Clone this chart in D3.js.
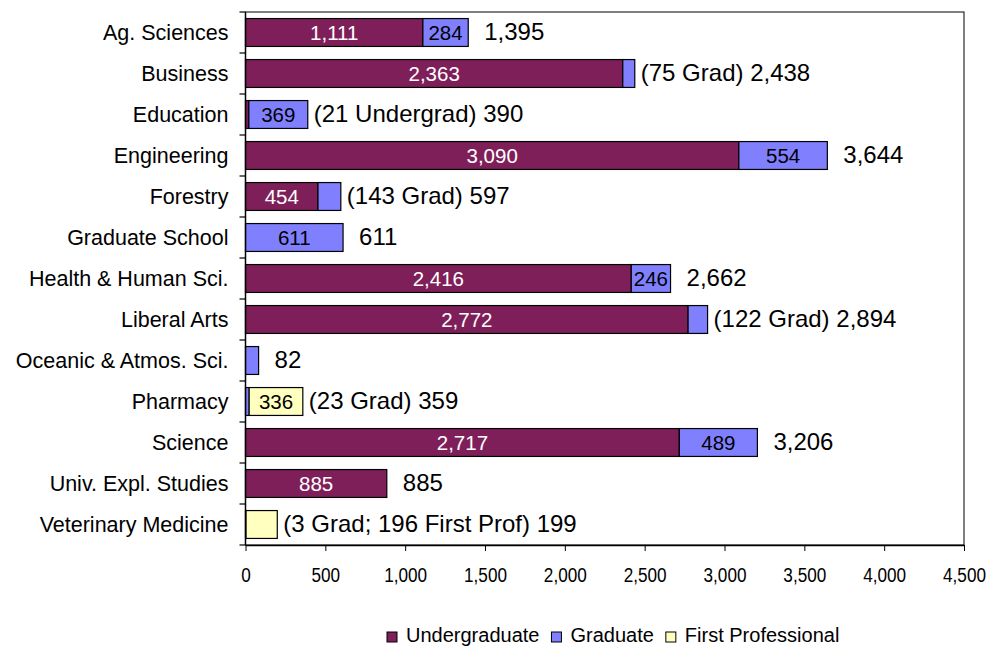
<!DOCTYPE html>
<html>
<head>
<meta charset="utf-8">
<script src="https://cdn.jsdelivr.net/npm/d3@7/dist/d3.min.js"></script>
<style>
  html, body { margin: 0; padding: 0; background: #fff; }
  svg { display: block; font-family: Arial, "Liberation Sans", sans-serif; }
</style>
</head>
<body>
<div id="chart"></div>
<script>
// enrollment by college, stacked by student level

const colleges = [
  "Ag. Sciences", "Business", "Education", "Engineering", "Forestry",
  "Graduate School", "Health & Human Sci.", "Liberal Arts",
  "Oceanic & Atmos. Sci.", "Pharmacy", "Science", "Univ. Expl. Studies",
  "Veterinary Medicine"
];
const undergrad = [1111, 2363, 21, 3090, 454, 0, 2416, 2772, 0, 0, 2717, 885, 0];
const grad      = [284, 75, 369, 554, 143, 611, 246, 122, 82, 23, 489, 0, 3];
const firstProf = [0, 0, 0, 0, 0, 0, 0, 0, 0, 336, 0, 0, 196];
const totalLabels = [
  "1,395", "(75 Grad) 2,438", "(21 Undergrad) 390", "3,644", "(143 Grad) 597",
  "611", "2,662", "(122 Grad) 2,894", "82", "(23 Grad) 359", "3,206", "885",
  "(3 Grad; 196 First Prof) 199"
];
const xTicks = [0, 500, 1000, 1500, 2000, 2500, 3000, 3500, 4000, 4500];

const seriesKeys = ["Undergraduate", "Graduate", "First Professional"];
const colors = { "Undergraduate": "#7f1f5a", "Graduate": "#8080ff", "First Professional": "#ffffc0" };
const labelColors = { "Undergraduate": "#fff", "Graduate": "#000", "First Professional": "#000" };

const rows = colleges.map((c, i) => ({
  college: c,
  "Undergraduate": undergrad[i],
  "Graduate": grad[i],
  "First Professional": firstProf[i],
  label: totalLabels[i]
}));

const W = 992, H = 646;
const margin = { top: 12, right: 28, bottom: 101, left: 245.5 };
const width = W - margin.left - margin.right;
const height = H - margin.top - margin.bottom;

const svg = d3.select("#chart").append("svg")
  .attr("width", W).attr("height", H);

const g = svg.append("g").attr("transform", `translate(${margin.left},${margin.top})`);

const x = d3.scaleLinear().domain([0, 4500]).range([0, width]);
const y = d3.scaleBand().domain(colleges).range([0, height]).paddingInner(0.32).paddingOuter(0.16);

const stack = d3.stack().keys(seriesKeys)(rows);

// plot frame
g.append("rect")
  .attr("width", width).attr("height", height)
  .attr("fill", "none").attr("stroke", "#000").attr("stroke-width", 1);

// bars
const layers = g.append("g").selectAll("g")
  .data(stack)
  .join("g")
    .attr("fill", d => colors[d.key]);

layers.selectAll("rect")
  .data(d => d.filter(s => s[1] - s[0] > 0))
  .join("rect")
    .attr("x", s => x(s[0]))
    .attr("y", s => y(s.data.college))
    .attr("width", s => x(s[1]) - x(s[0]))
    .attr("height", y.bandwidth())
    .attr("stroke", "#000")
    .attr("stroke-width", 1.2);

// in-bar value labels (only segments wide enough)
stack.forEach(layer => {
  g.append("g").selectAll("text")
    .data(layer.filter(s => s[1] - s[0] > 220))
    .join("text")
      .attr("x", s => x((s[0] + s[1]) / 2))
      .attr("y", s => y(s.data.college) + y.bandwidth() / 2)
      .attr("dy", "0.36em")
      .attr("text-anchor", "middle")
      .attr("font-size", 20.5)
      .attr("fill", labelColors[layer.key])
      .text(s => d3.format(",")(s[1] - s[0]));
});

// total labels beside bars
g.append("g").selectAll("text")
  .data(rows)
  .join("text")
    .attr("x", d => x(d["Undergraduate"] + d["Graduate"] + d["First Professional"]) + (d.label.startsWith("(") ? 6 : 16))
    .attr("y", d => y(d.college) + y.bandwidth() / 2)
    .attr("dy", "0.33em")
    .attr("font-size", 24)
    .attr("fill", "#000")
    .text(d => d.label);

// x axis
const xAxis = g.append("g")
  .attr("transform", `translate(0,${height})`)
  .call(d3.axisBottom(x).tickValues(xTicks).tickSize(6).tickSizeOuter(0).tickPadding(17).tickFormat(d3.format(",")));
xAxis.select(".domain").attr("stroke-width", 1.5);
xAxis.selectAll("text").attr("font-size", 19.5).attr("fill", "#000")
  .attr("transform", "scale(0.88,1)");

// y axis: labels centred on bands, ticks on band boundaries
const yAxis = g.append("g");
yAxis.append("line")
  .attr("y1", 0).attr("y2", height).attr("stroke", "#000").attr("stroke-width", 1.5);
yAxis.selectAll("line.tick")
  .data(d3.range(colleges.length + 1))
  .join("line")
    .attr("class", "tick")
    .attr("x1", -6).attr("x2", 0)
    .attr("y1", i => i * y.step())
    .attr("y2", i => i * y.step())
    .attr("stroke", "#000").attr("stroke-width", 1.2);
yAxis.selectAll("text")
  .data(colleges)
  .join("text")
    .attr("x", -17)
    .attr("y", d => y(d) + y.bandwidth() / 2)
    .attr("dy", "0.35em")
    .attr("text-anchor", "end")
    .attr("font-size", 21.5)
    .attr("fill", "#000")
    .text(d => d);

// legend
const legend = svg.append("g").attr("transform", "translate(387,642)");
let lx = 0;
seriesKeys.forEach(k => {
  const item = legend.append("g").attr("transform", `translate(${lx},0)`);
  item.append("rect")
    .attr("x", 0).attr("y", -10).attr("width", 10).attr("height", 10)
    .attr("fill", colors[k]).attr("stroke", "#000").attr("stroke-width", 1);
  const t = item.append("text")
    .attr("x", 19).attr("y", 0)
    .attr("font-size", 20)
    .attr("fill", "#000")
    .text(k);
  lx += 19 + t.node().getComputedTextLength() + 12;
});
</script>
</body>
</html>
